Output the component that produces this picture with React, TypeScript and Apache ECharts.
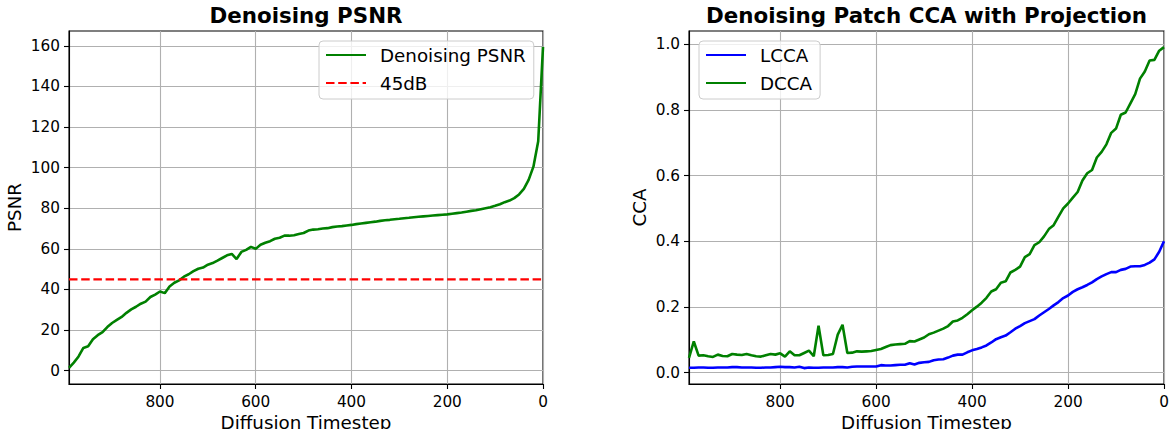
import React, { useEffect, useRef } from 'react';
import * as echarts from 'echarts';

const timesteps = [
  990, 980, 970, 960, 950, 940, 930, 920, 910, 900,
  890, 880, 870, 860, 850, 840, 830, 820, 810, 800,
  790, 780, 770, 760, 750, 740, 730, 720, 710, 700,
  690, 680, 670, 660, 650, 640, 630, 620, 610, 600,
  590, 580, 570, 560, 550, 540, 530, 520, 510, 500,
  490, 480, 470, 460, 450, 440, 430, 420, 410, 400,
  390, 380, 370, 360, 350, 340, 330, 320, 310, 300,
  290, 280, 270, 260, 250, 240, 230, 220, 210, 200,
  190, 180, 170, 160, 150, 140, 130, 120, 110, 100,
  90, 80, 70, 60, 50, 40, 30, 20, 10, 0,
];

const psnr = [
  1.4, 4, 7, 11.2, 12, 15.5, 17.5, 19, 21.5, 23.5,
  25, 26.5, 28.5, 30.2, 31.5, 33, 34, 36.3, 37.5, 39,
  38.2, 41.5, 43.3, 44.5, 46.3, 47.5, 49, 50.2, 50.8, 52.2,
  53, 54.2, 55.5, 56.8, 57.5, 55, 58.5, 59.5, 61, 60,
  62, 63, 63.8, 65, 65.5, 66.5, 66.5, 66.7, 67.3, 67.8,
  69, 69.5, 69.7, 70, 70.2, 70.7, 71, 71.2, 71.5, 71.8,
  72.2, 72.5, 72.8, 73.1, 73.4, 73.8, 74.1, 74.3, 74.6, 74.8,
  75.1, 75.3, 75.6, 75.8, 76, 76.2, 76.4, 76.6, 76.8, 77,
  77.3, 77.6, 77.9, 78.3, 78.7, 79, 79.5, 80, 80.5, 81.2,
  82, 83, 83.8, 85, 86.8, 89.5, 94, 100.5, 113, 159.5,
];

const lcca = [
  0.015, 0.015, 0.016, 0.016, 0.015, 0.015, 0.016, 0.016, 0.016, 0.017,
  0.017, 0.016, 0.016, 0.016, 0.015, 0.015, 0.016, 0.016, 0.017, 0.018,
  0.017, 0.017, 0.016, 0.018, 0.014, 0.016, 0.015, 0.015, 0.016, 0.016,
  0.016, 0.017, 0.017, 0.016, 0.018, 0.019, 0.019, 0.019, 0.019, 0.019,
  0.023, 0.022, 0.022, 0.023, 0.024, 0.024, 0.029, 0.025, 0.030, 0.032,
  0.033, 0.038, 0.040, 0.041, 0.046, 0.052, 0.055, 0.055, 0.062, 0.068,
  0.072, 0.077, 0.083, 0.092, 0.102, 0.108, 0.113, 0.123, 0.134, 0.142,
  0.151, 0.157, 0.163, 0.174, 0.184, 0.194, 0.205, 0.215, 0.227, 0.235,
  0.246, 0.254, 0.260, 0.267, 0.275, 0.285, 0.293, 0.300, 0.306, 0.306,
  0.313, 0.316, 0.323, 0.324, 0.324, 0.328, 0.335, 0.345, 0.368, 0.400,
];

const dcca = [
  0.045, 0.095, 0.052, 0.053, 0.050, 0.048, 0.055, 0.051, 0.050, 0.057,
  0.055, 0.054, 0.057, 0.053, 0.050, 0.049, 0.053, 0.057, 0.055, 0.059,
  0.049, 0.065, 0.053, 0.053, 0.060, 0.067, 0.050, 0.143, 0.053, 0.054,
  0.057, 0.116, 0.146, 0.060, 0.061, 0.065, 0.064, 0.065, 0.066, 0.069,
  0.072, 0.078, 0.084, 0.086, 0.087, 0.088, 0.096, 0.095, 0.101, 0.107,
  0.117, 0.122, 0.128, 0.134, 0.142, 0.156, 0.159, 0.167, 0.178, 0.190,
  0.201, 0.213, 0.228, 0.247, 0.254, 0.274, 0.278, 0.305, 0.313, 0.323,
  0.352, 0.361, 0.388, 0.397, 0.415, 0.437, 0.449, 0.475, 0.500, 0.515,
  0.533, 0.550, 0.585, 0.607, 0.617, 0.655, 0.672, 0.695, 0.730, 0.743,
  0.785, 0.792, 0.820, 0.848, 0.895, 0.917, 0.950, 0.952, 0.980, 0.991,
];

const thresholdDb = 45;
const xTicks = [800, 600, 400, 200, 0];
const psnrTicks = [0, 20, 40, 60, 80, 100, 120, 140, 160];
const ccaTicks = [0, 0.2, 0.4, 0.6, 0.8, 1.0];

const FONT = 'DejaVu Sans';
const TICK_SIZE = 15.3;
const LABEL_SIZE = 18.3;
const TITLE_SIZE = 21.4;

function xAxisFor(gridIndex: number) {
  return {
    gridIndex,
    type: 'value',
    min: 0,
    max: timesteps[0],
    inverse: true,
    name: 'Diffusion Timestep',
    nameLocation: 'middle',
    nameGap: 28,
    nameTextStyle: { fontSize: LABEL_SIZE, color: '#000', fontFamily: FONT },
    axisLine: { show: true, onZero: false, lineStyle: { color: '#000', width: 1.1 } },
    axisTick: { show: true, length: 5, customValues: xTicks, lineStyle: { color: '#000', width: 1.1 } },
    axisLabel: { customValues: xTicks, margin: 10, fontSize: TICK_SIZE, color: '#000', fontFamily: FONT },
    splitLine: { show: true, lineStyle: { color: '#b0b0b0', width: 1.1 } },
  };
}

export default function App() {
  const ref = useRef<HTMLDivElement>(null);
  useEffect(() => {
    document.body.style.margin = '0';
    const chart = echarts.init(ref.current as HTMLDivElement, null, { renderer: 'svg' });
    const legendBase = {
      orient: 'vertical',
      top: 41,
      itemWidth: 40,
      itemHeight: 14,
      itemGap: 10,
      itemStyle: { opacity: 0 },
      backgroundColor: 'rgba(255,255,255,0.8)',
      borderColor: '#cccccc',
      borderWidth: 1,
      borderRadius: 4,
      textStyle: { fontSize: LABEL_SIZE, color: '#000', fontFamily: FONT, padding: [0, 0, 0, 9] },
    };
    const gridBase = {
      top: 31, height: 353, show: true, borderColor: '#000', borderWidth: 1.1,
      backgroundColor: 'transparent', containLabel: false, outerBoundsMode: 'none',
    };
    const option: any = {
      animation: false,
      textStyle: { fontFamily: FONT },
      title: [
        {
          text: 'Denoising PSNR', left: 306, top: 5, textAlign: 'center', padding: 0,
          textStyle: { fontSize: TITLE_SIZE, fontWeight: 'bold', color: '#000', fontFamily: FONT },
        },
        {
          text: 'Denoising Patch CCA with Projection', left: 926.5, top: 5, textAlign: 'center', padding: 0,
          textStyle: { fontSize: TITLE_SIZE, fontWeight: 'bold', color: '#000', fontFamily: FONT },
        },
      ],
      legend: [
        { ...legendBase, left: 319, padding: [5, 8, 7, 6], data: ['Denoising PSNR', '45dB'] },
        { ...legendBase, left: 699, padding: [5, 8, 7, 6], data: ['LCCA', 'DCCA'] },
      ],
      grid: [
        { ...gridBase, left: 69, width: 474 },
        { ...gridBase, left: 689, width: 475 },
      ],
      xAxis: [xAxisFor(0), xAxisFor(1)],
      yAxis: [
        {
          gridIndex: 0, type: 'value', min: -6.55, max: 167.3,
          name: 'PSNR', nameLocation: 'middle', nameGap: 46,
          nameTextStyle: { fontSize: LABEL_SIZE, color: '#000', fontFamily: FONT },
          axisLine: { show: true, onZero: false, lineStyle: { color: '#000', width: 1.1 } },
          axisTick: { show: true, length: 5, customValues: psnrTicks, lineStyle: { color: '#000', width: 1.1 } },
          axisLabel: { customValues: psnrTicks, margin: 9, fontSize: TICK_SIZE, color: '#000', fontFamily: FONT },
          splitLine: { show: true, lineStyle: { color: '#b0b0b0', width: 1.1 } },
        },
        {
          gridIndex: 1, type: 'value', min: -0.0344, max: 1.04,
          name: 'CCA', nameLocation: 'middle', nameGap: 41,
          nameTextStyle: { fontSize: LABEL_SIZE, color: '#000', fontFamily: FONT },
          axisLine: { show: true, onZero: false, lineStyle: { color: '#000', width: 1.1 } },
          axisTick: { show: true, length: 5, customValues: ccaTicks, lineStyle: { color: '#000', width: 1.1 } },
          axisLabel: {
            customValues: ccaTicks, margin: 9, fontSize: TICK_SIZE, color: '#000', fontFamily: FONT,
            formatter: (v: number) => v.toFixed(1),
          },
          splitLine: { show: true, lineStyle: { color: '#b0b0b0', width: 1.1 } },
        },
      ],
      series: [
        {
          type: 'line', name: 'Denoising PSNR', xAxisIndex: 0, yAxisIndex: 0,
          data: timesteps.map((t, i) => [t, psnr[i]]),
          symbol: 'none', showSymbol: false,
          lineStyle: { color: '#008000', width: 2.6 }, itemStyle: { color: '#008000' },
        },
        {
          type: 'line', name: '45dB', xAxisIndex: 0, yAxisIndex: 0,
          data: [[timesteps[0], thresholdDb], [timesteps[timesteps.length - 1], thresholdDb]],
          symbol: 'none', showSymbol: false,
          lineStyle: { color: '#ff0000', width: 2.2, type: [8.5, 3.7] }, itemStyle: { color: '#ff0000' },
        },
        {
          type: 'line', name: 'LCCA', xAxisIndex: 1, yAxisIndex: 1,
          data: timesteps.map((t, i) => [t, lcca[i]]),
          symbol: 'none', showSymbol: false,
          lineStyle: { color: '#0000ff', width: 2.6 }, itemStyle: { color: '#0000ff' },
        },
        {
          type: 'line', name: 'DCCA', xAxisIndex: 1, yAxisIndex: 1,
          data: timesteps.map((t, i) => [t, dcca[i]]),
          symbol: 'none', showSymbol: false,
          lineStyle: { color: '#008000', width: 2.6 }, itemStyle: { color: '#008000' },
        },
      ],
    };
    chart.setOption(option);
    return () => chart.dispose();
  }, []);
  return <div ref={ref} style={{ width: 1169, height: 429 }} />;
}
